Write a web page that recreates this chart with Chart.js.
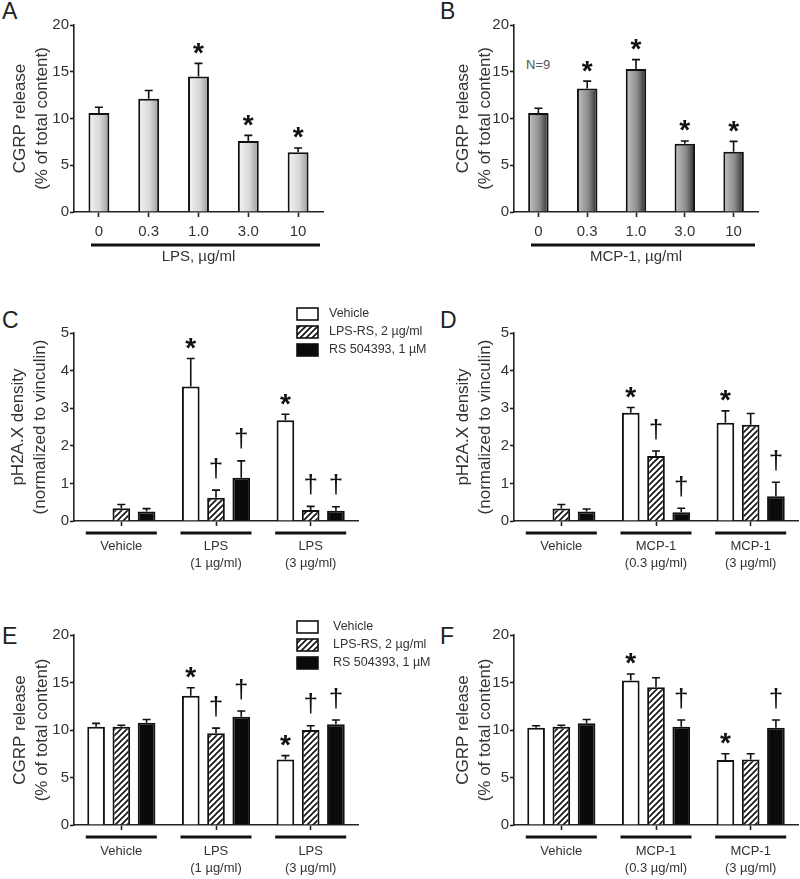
<!DOCTYPE html>
<html>
<head>
<meta charset="utf-8">
<script src="https://cdn.jsdelivr.net/npm/chart.js@4.4.1/dist/chart.umd.min.js"></script>
<style>
  body { margin: 0; background: #fff; width: 800px; height: 879px; position: relative; overflow: hidden; font-family: "Liberation Sans", Arial, sans-serif; }
  canvas { position: absolute; }
  .letter { position: absolute; font-size: 23px; line-height: 22px; color: #222; }
  .note { position: absolute; font-size: 13px; color: #555; }
</style>
</head>
<body>
<div class="letter" style="left:2px;top:0px">A</div>
<div class="letter" style="left:440px;top:0px">B</div>
<div class="letter" style="left:2px;top:309px">C</div>
<div class="letter" style="left:440px;top:309px">D</div>
<div class="letter" style="left:2px;top:625px">E</div>
<div class="letter" style="left:440px;top:625px">F</div>
<div class="note" style="left:526px;top:57px">N=9</div>

<canvas id="chartB" width="400" height="290" style="left:400px;top:0px"></canvas>
<canvas id="chartA" width="400" height="290" style="left:0px;top:0px"></canvas>
<canvas id="chartD" width="400" height="290" style="left:400px;top:290px"></canvas>
<canvas id="chartC" width="440" height="290" style="left:0px;top:290px"></canvas>
<canvas id="chartF" width="400" height="299" style="left:400px;top:580px"></canvas>
<canvas id="chartE" width="440" height="299" style="left:0px;top:580px"></canvas>

<script>
  // dose response (A, B)
  var doses = ['0', '0.3', '1.0', '3.0', '10'];
  var lpsRelease = [10.6, 12.1, 14.5, 7.6, 6.4];
  var lpsReleaseErr = [0.6, 0.9, 1.4, 0.6, 0.45];
  var lpsMarks = ['', '', '*', '*', '*'];
  var mcpRelease = [10.6, 13.2, 15.3, 7.3, 6.45];
  var mcpReleaseErr = [0.5, 0.8, 1.0, 0.3, 1.1];
  var mcpMarks = ['', '*', '*', '*', '*'];

  // treatment groups (C - F)
  var seriesNames = ['Vehicle', 'LPS-RS, 2 µg/ml', 'RS 504393, 1 µM'];
  var lpsGroups = [['Vehicle'], ['LPS', '(1 µg/ml)'], ['LPS', '(3 µg/ml)']];
  var mcpGroups = [['Vehicle'], ['MCP-1', '(0.3 µg/ml)'], ['MCP-1', '(3 µg/ml)']];

  // C: pH2A.X, LPS
  var cVehicle = [null, 3.58, 2.68];
  var cVehicleErr = [0, 0.74, 0.16];
  var cLpsRs = [0.34, 0.62, 0.29];
  var cLpsRsErr = [0.1, 0.2, 0.1];
  var cRs = [0.25, 1.15, 0.27];
  var cRsErr = [0.08, 0.45, 0.11];
  var cMarks = [['', '*', '*'], ['', '†', '†'], ['', '†', '†']];

  // D: pH2A.X, MCP-1
  var dVehicle = [null, 2.88, 2.61];
  var dVehicleErr = [0, 0.14, 0.32];
  var dLpsRs = [0.33, 1.73, 2.56];
  var dLpsRsErr = [0.11, 0.13, 0.3];
  var dRs = [0.25, 0.23, 0.66];
  var dRsErr = [0.07, 0.11, 0.37];
  var dMarks = [['', '*', '*'], ['', '†', ''], ['', '†', '†']];

  // E: CGRP release, LPS
  var eVehicle = [10.35, 13.6, 6.9];
  var eVehicleErr = [0.35, 0.85, 0.4];
  var eLpsRs = [10.35, 9.65, 10.0];
  var eLpsRsErr = [0.15, 0.55, 0.45];
  var eRs = [10.77, 11.4, 10.6];
  var eRsErr = [0.33, 0.6, 0.45];
  var eMarks = [['', '*', '*'], ['', '†', '†'], ['', '†', '†']];

  // F: CGRP release, MCP-1
  var fVehicle = [10.25, 15.2, 6.85];
  var fVehicleErr = [0.2, 0.7, 0.65];
  var fLpsRs = [10.35, 14.5, 6.9];
  var fLpsRsErr = [0.15, 1.0, 0.6];
  var fRs = [10.7, 10.35, 10.25];
  var fRsErr = [0.4, 0.7, 0.8];
  var fMarks = [['', '*', '*'], ['', '', ''], ['', '†', '†']];

  var FONT = '"Liberation Sans", Arial, sans-serif';
  Chart.defaults.font.family = FONT;
  Chart.defaults.color = '#333';

  function hatch() {
    var c = document.createElement('canvas');
    c.width = 6; c.height = 6;
    var g = c.getContext('2d');
    g.fillStyle = '#fff';
    g.fillRect(0, 0, 6, 6);
    g.strokeStyle = '#111';
    g.lineWidth = 1.6;
    g.beginPath();
    g.moveTo(0, 6); g.lineTo(6, 0);
    g.moveTo(-1, 1); g.lineTo(1, -1);
    g.moveTo(5, 7); g.lineTo(7, 5);
    g.stroke();
    return g.createPattern(c, 'repeat');
  }
  var hatchFill = hatch();

  function gradientFill(stops) {
    return function (c) {
      var chart = c.chart, xs = chart.scales.x;
      if (!chart.chartArea || !xs || c.dataIndex == null) return stops[1];
      var half = xs.width / chart.data.labels.length * 0.42 / 2;
      var cx = xs.getPixelForValue(c.dataIndex);
      var g = chart.ctx.createLinearGradient(cx - half, 0, cx + half, 0);
      g.addColorStop(0, stops[0]);
      g.addColorStop(0.55, stops[1]);
      g.addColorStop(1, stops[2]);
      return g;
    };
  }

  // error bars + significance marks
  var barExtras = {
    id: 'barExtras',
    afterDatasetsDraw: function (chart) {
      var ctx = chart.ctx, ys = chart.scales.y;
      chart.data.datasets.forEach(function (ds, di) {
        chart.getDatasetMeta(di).data.forEach(function (bar, i) {
          var v = ds.data[i];
          if (v == null) return;
          var top = ys.getPixelForValue(v + ds.errors[i]);
          ctx.save();
          ctx.strokeStyle = '#111';
          ctx.lineWidth = 1.6;
          ctx.beginPath();
          ctx.moveTo(bar.x, bar.y);
          ctx.lineTo(bar.x, top);
          ctx.moveTo(bar.x - 4, top);
          ctx.lineTo(bar.x + 4, top);
          ctx.stroke();
          var m = ds.marks[i];
          if (m) {
            ctx.fillStyle = '#111';
            ctx.font = m === '*' ? 'bold 28px ' + FONT : '26px ' + FONT;
            ctx.textAlign = 'center';
            ctx.textBaseline = 'alphabetic';
            var tm = ctx.measureText(m);
            var cy = top - (m === '*' ? 15 : 22);
            ctx.fillText(m, bar.x, cy + (tm.actualBoundingBoxAscent - tm.actualBoundingBoxDescent) / 2);
          }
          ctx.restore();
        });
      });
    }
  };

  // thick lines under the x labels
  var groupLines = {
    id: 'groupLines',
    afterDraw: function (chart, args, opts) {
      if (!opts.mode) return;
      var ctx = chart.ctx, xs = chart.scales.x, area = chart.chartArea;
      var n = chart.data.labels.length;
      var y = area.bottom + opts.offset;
      ctx.save();
      ctx.strokeStyle = '#111';
      ctx.lineWidth = 3;
      ctx.beginPath();
      if (opts.mode === 'all') {
        ctx.moveTo(area.left + 17, y);
        ctx.lineTo(area.right - 3, y);
      } else {
        var half = xs.width / n * 0.375;
        for (var i = 0; i < n; i++) {
          var cx = xs.getPixelForValue(i);
          ctx.moveTo(cx - half, y);
          ctx.lineTo(cx + half, y);
        }
      }
      ctx.stroke();
      ctx.restore();
    }
  };

  var boxLegend = {
    id: 'boxLegend',
    afterDraw: function (chart, args, opts) {
      if (opts.x == null) return;
      var ctx = chart.ctx;
      chart.data.datasets.forEach(function (ds, i) {
        var y = opts.y + i * 18;
        ctx.save();
        ctx.fillStyle = ds.backgroundColor;
        ctx.fillRect(opts.x, y - 6, 21, 12);
        ctx.strokeStyle = '#111';
        ctx.lineWidth = 1.6;
        ctx.strokeRect(opts.x, y - 6, 21, 12);
        ctx.fillStyle = '#333';
        ctx.font = '12.5px ' + FONT;
        ctx.textBaseline = 'middle';
        ctx.fillText(ds.label, opts.x + opts.gap, y);
        ctx.restore();
      });
    }
  };

  function makePanel(id, box, area, p) {
    var xs = {
      offset: true,
      ticks: { color: '#333', font: { size: p.tickSize, lineHeight: 1.3 }, padding: p.tickPad, maxRotation: 0, autoSkip: false },
      grid: { offset: false, drawOnChartArea: false, tickLength: 5, tickColor: '#222', tickWidth: 1.6 },
      border: { color: '#222', width: 1.6 },
      afterFit: function (s) { s.height = p.xHeight; }
    };
    if (p.xTitle) {
      xs.title = { display: true, text: p.xTitle, color: '#333', font: { size: 15, lineHeight: 1.2 }, padding: { top: 0, bottom: 6 } };
    }
    new Chart(document.getElementById(id), {
      type: 'bar',
      data: { labels: p.labels, datasets: p.datasets },
      options: {
        responsive: false,
        animation: false,
        events: [],
        layout: {
          padding: {
            left: 0,
            top: area[1] - box[1],
            right: box[0] + box[2] - area[2],
            bottom: box[1] + box[3] - area[3] - p.xHeight
          }
        },
        scales: {
          x: xs,
          y: {
            min: 0, max: p.yMax,
            ticks: { stepSize: p.yStep, color: '#333', font: { size: 15 }, padding: 1 },
            grid: { drawOnChartArea: false, tickLength: 4, tickColor: '#222', tickWidth: 1.6 },
            border: { color: '#222', width: 1.6 },
            title: { display: true, text: p.yTitle, color: '#333', font: { size: 17, lineHeight: 1.3 }, padding: { top: p.titleX - box[0] - 11, bottom: 0 } },
            afterFit: function (s) { s.width = area[0] - box[0]; }
          }
        },
        plugins: {
          legend: { display: false },
          tooltip: { enabled: false },
          groupLines: p.lines,
          boxLegend: p.legend || {}
        }
      },
      plugins: [barExtras, groupLines, boxLegend]
    });
  }

  function doseSet(values, errors, marks, stops) {
    return [{
      data: values, errors: errors, marks: marks,
      backgroundColor: gradientFill(stops),
      borderColor: '#111', borderWidth: 2,
      barPercentage: 0.42, categoryPercentage: 1
    }];
  }

  function groupSets(values, errors, marks) {
    var fills = ['#fff', hatchFill, '#0a0a0a'];
    return values.map(function (v, i) {
      return {
        label: seriesNames[i], data: v, errors: errors[i], marks: marks[i],
        backgroundColor: fills[i], borderColor: '#111', borderWidth: 2,
        barPercentage: 0.7, categoryPercentage: 0.8
      };
    });
  }

  var cgrpTitle = ['CGRP release', '(% of total content)'];
  var h2axTitle = ['pH2A.X density', '(normalized to vinculin)'];

  makePanel('chartA', [0, 0, 400, 290], [74, 25, 323, 212], {
    labels: doses, yMax: 20, yStep: 5, yTitle: cgrpTitle, titleX: 20,
    tickSize: 15, tickPad: 5, xHeight: 60, xTitle: 'LPS, µg/ml',
    lines: { mode: 'all', offset: 33 },
    datasets: doseSet(lpsRelease, lpsReleaseErr, lpsMarks, ['#f4f4f4', '#d8d8d8', '#999'])
  });

  makePanel('chartB', [400, 0, 400, 290], [514, 25, 758, 212], {
    labels: doses, yMax: 20, yStep: 5, yTitle: cgrpTitle, titleX: 463,
    tickSize: 15, tickPad: 5, xHeight: 60, xTitle: 'MCP-1, µg/ml',
    lines: { mode: 'all', offset: 33 },
    datasets: doseSet(mcpRelease, mcpReleaseErr, mcpMarks, ['#c4c4c4', '#8c8c8c', '#2a2a2a'])
  });

  makePanel('chartC', [0, 290, 440, 290], [74, 333, 358, 521], {
    labels: lpsGroups, yMax: 5, yStep: 1, yTitle: h2axTitle, titleX: 18,
    tickSize: 13, tickPad: 12, xHeight: 60,
    lines: { mode: 'each', offset: 12 },
    legend: { x: 297, y: 24, gap: 32 },
    datasets: groupSets([cVehicle, cLpsRs, cRs], [cVehicleErr, cLpsRsErr, cRsErr], cMarks)
  });

  makePanel('chartD', [400, 290, 400, 290], [514, 333, 798, 521], {
    labels: mcpGroups, yMax: 5, yStep: 1, yTitle: h2axTitle, titleX: 463,
    tickSize: 13, tickPad: 12, xHeight: 60,
    lines: { mode: 'each', offset: 12 },
    datasets: groupSets([dVehicle, dLpsRs, dRs], [dVehicleErr, dLpsRsErr, dRsErr], dMarks)
  });

  makePanel('chartE', [0, 580, 440, 299], [74, 635, 358, 825], {
    labels: lpsGroups, yMax: 20, yStep: 5, yTitle: cgrpTitle, titleX: 20,
    tickSize: 13, tickPad: 13, xHeight: 54,
    lines: { mode: 'each', offset: 12 },
    legend: { x: 297, y: 47, gap: 36 },
    datasets: groupSets([eVehicle, eLpsRs, eRs], [eVehicleErr, eLpsRsErr, eRsErr], eMarks)
  });

  makePanel('chartF', [400, 580, 400, 299], [514, 635, 798, 825], {
    labels: mcpGroups, yMax: 20, yStep: 5, yTitle: cgrpTitle, titleX: 463,
    tickSize: 13, tickPad: 13, xHeight: 54,
    lines: { mode: 'each', offset: 12 },
    datasets: groupSets([fVehicle, fLpsRs, fRs], [fVehicleErr, fLpsRsErr, fRsErr], fMarks)
  });
</script>
</body>
</html>
